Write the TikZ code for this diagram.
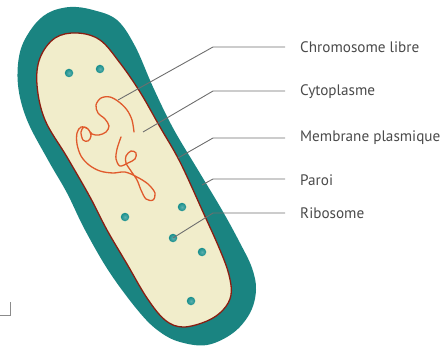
\documentclass[tikz,border=0pt]{standalone}
\usepackage{fontspec}
\setmainfont{PT Sans}
\definecolor{wallteal}{HTML}{1A8481}
\definecolor{cytocream}{HTML}{F1EDCB}
\definecolor{membred}{HTML}{8A1E12}
\definecolor{chromorange}{HTML}{E05A2C}
\definecolor{ribteal}{HTML}{178E8C}
\definecolor{leadgray}{HTML}{6E6E6E}
\definecolor{labgray}{HTML}{4A4A4A}
\begin{document}
\begin{tikzpicture}[x=1pt,y=-1pt,
  wall/.style={fill=wallteal},
  cyto/.style={fill=cytocream,draw=membred,line width=1.3pt},
  ribo/.style={circle,inner sep=0pt,minimum size=8.5pt,
    inner color=ribteal!70!white,outer color=ribteal},
  chromo/.style={draw=chromorange,line width=1.3pt,line cap=round},
  leader/.style={draw=leadgray,line width=0.9pt},
  lab/.style={anchor=west,inner xsep=0pt,text=labgray,font=\fontsize{15.2}{17}\selectfont}]
\useasboundingbox (0,0) rectangle (446,347);

% cell wall
\fill[wall] plot[smooth cycle,tension=0.6] coordinates {
  (70,7) (93,10) (117,20) (135,46) (153,87) (173,128) (198,170) (222,210)
  (240,243) (252,268) (256,290) (250,313) (233,333) (207,345) (180,342)
  (160,332) (140,313) (110,273) (85,230) (67,193) (48,160) (27,120)
  (18,85) (20,52) (32,28) (48,13)};

% cytoplasm bounded by the plasma membrane
\path[cyto] plot[smooth cycle,tension=0.6] coordinates {
  (77,33) (100,40) (120,63) (140,92) (160,127) (180,162) (203,212)
  (220,250) (229,275) (231,295) (223,310) (207,321) (183,327) (165,320)
  (147,298) (127,264) (107,230) (90,197) (67,157) (45,120) (37,85)
  (40,58) (55,38)};

% free chromosome
\draw[chromo] plot[smooth,tension=0.55] coordinates {
  (134,132) (132,120) (127,110) (119,102) (110,97) (101,98) (96,105)
  (98,113) (105,119) (109,126) (106,132) (99,135) (92,134) (88,129)
  (84,127) (81,132) (83,140) (88,141) (91,136) (88,129) (81,127)
  (77,133) (77,144) (81,156) (89,165) (100,171) (113,173) (125,172)
  (137,177) (148,184) (155,193) (153,200) (146,199) (141,190) (137,180)
  (131,171) (126,163) (126,156) (131,151) (136,153) (135,159) (128,163)
  (120,166) (116,159) (117,149) (121,137)};

% ribosomes
\node[ribo] (r1) at (69,73) {};
\node[ribo] (r2) at (100,69) {};
\node[ribo] (r3) at (125,217) {};
\node[ribo] (r4) at (182,207) {};
\node[ribo] (r5) at (173,238) {};
\node[ribo] (r6) at (202,252) {};
\node[ribo] (r7) at (191,301) {};

% labels
\node[lab] (l1) at (300,47) {Chromosome libre};
\node[lab] (l2) at (300,92) {Cytoplasme};
\node[lab] (l3) at (300,138) {Membrane plasmique};
\node[lab] (l4) at (300,180) {Paroi};
\node[lab] (l5) at (300,213) {Ribosome};

% leader lines
\coordinate (t1) at (118,100);
\coordinate (t2) at (143,132);
\coordinate (t3) at (178,158);
\coordinate (t4) at (202,185);
\coordinate (k1) at (213,47);
\coordinate (k2) at (213,91);
\coordinate (k3) at (213,138);
\coordinate (k4) at (213,179);
\coordinate (k5) at (213,213);
\coordinate (e1) at (285,47);
\coordinate (e2) at (285,91);
\coordinate (e3) at (285,138);
\coordinate (e4) at (285,179);
\coordinate (e5) at (285,213);
\draw[leader] (t1) -- (k1) -- (e1);
\draw[leader] (t2) -- (k2) -- (e2);
\draw[leader] (t3) -- (k3) -- (e3);
\draw[leader] (t4) -- (k4) -- (e4);
\draw[leader] (r5.center) -- (k5) -- (e5);

% corner mark
\coordinate (m1) at (10,302);
\coordinate (m2) at (10,315);
\coordinate (m3) at (0,315);
\draw[draw=leadgray!80,line width=1pt] (m1) -- (m2) -- (m3);
\end{tikzpicture}
\end{document}
